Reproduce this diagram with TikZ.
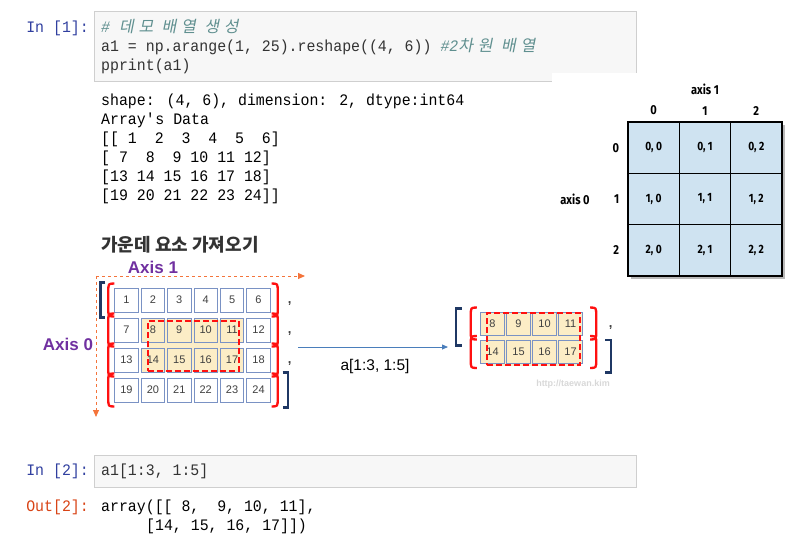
\documentclass[tikz,border=0pt]{standalone}
\usepackage{fontspec}
\setmainfont{Liberation Sans}
\newfontfamily\codefont[FakeStretch=0.93]{Liberation Mono}
\newfontfamily\krfont{Noto Sans CJK KR}
\newfontfamily\krcomment[FakeSlant=0.2,LetterSpace=30]{Noto Sans CJK KR}
\newfontfamily\figfont[FakeStretch=0.85]{Fira Sans}
\usetikzlibrary{positioning, fit, calc, arrows.meta, backgrounds}

\definecolor{promptblue}{HTML}{303F9F}
\definecolor{promptred}{HTML}{D84315}
\definecolor{codegray}{HTML}{333333}
\definecolor{commentc}{HTML}{5F8F8F}
\definecolor{boxfill}{HTML}{F7F7F7}
\definecolor{boxline}{HTML}{CFCFCF}
\definecolor{cellblue}{HTML}{7A92C4}
\definecolor{numgray}{HTML}{404040}
\definecolor{selyellow}{HTML}{FCEDC6}
\definecolor{parred}{HTML}{FF1010}
\definecolor{navyline}{HTML}{1F3864}
\definecolor{axorange}{HTML}{F4743B}
\definecolor{axpurple}{HTML}{7030A0}
\definecolor{sliceblue}{HTML}{4A7EBB}
\definecolor{gridblue}{HTML}{CFE3F1}
\definecolor{titlegray}{HTML}{333333}
\definecolor{wmgray}{HTML}{D8D8D8}

\tikzset{
  codebox/.style={
    rectangle, draw=boxline, fill=boxfill, line width=0.8pt, inner sep=0pt, anchor=north west
  },
  codeline/.style={
    font=\codefont\fontsize{16}{19}\selectfont, text=codegray, inner sep=0pt, anchor=base west
  },
  prompt/.style={
    font=\codefont\fontsize{16}{19}\selectfont, inner sep=0pt, anchor=base east
  },
  cell/.style={
    rectangle, draw=cellblue, line width=0.9pt, fill=white, minimum width=23.5pt,
    minimum height=24pt, inner sep=0pt, font=\fontsize{11}{11}\selectfont, text=numgray
  },
  selbox/.style={
    rectangle, draw=parred, line width=2.2pt, dash pattern=on 6pt off 3pt, inner sep=0pt
  },
  paren/.style={draw=parred, line width=2.3pt},
  brack/.style={draw=navyline, line width=2.4pt},
  axisarrow/.style={
    draw=axorange, line width=1pt, dashed, -{Triangle[length=7pt, width=6pt]}
  },
  axislabel/.style={font=\bfseries\fontsize{17}{17}\selectfont, text=axpurple},
  slicearrow/.style={draw=sliceblue, line width=0.8pt, -{Triangle[length=6pt, width=5pt]}},
  gridcell/.style={
    rectangle, draw=black, line width=1.3pt, fill=gridblue, minimum size=51.3pt,
    inner sep=0pt, font=\figfont\bfseries\fontsize{12}{12}\selectfont
  },
  gridlabel/.style={font=\figfont\bfseries\fontsize{13}{13}\selectfont, inner sep=1pt},
  commamark/.style={font=\bfseries\fontsize{13}{13}\selectfont, text=numgray, anchor=base}
}

\newcommand{\rowopen}[3]{%
  \draw[paren] ($(#1.north west)+(6pt-#2,#3)$) .. controls ($(#1.north west)+(-#2,#3)$)
    .. ($(#1.north west)+(-#2,#3-8pt)$) -- ($(#1.south west)+(-#2,8pt-#3)$)
    .. controls ($(#1.south west)+(-#2,-#3)$) .. ($(#1.south west)+(6pt-#2,-#3)$);}
\newcommand{\rowclose}[3]{%
  \draw[paren] ($(#1.north east)+(#2-6pt,#3)$) .. controls ($(#1.north east)+(#2,#3)$)
    .. ($(#1.north east)+(#2,#3-8pt)$) -- ($(#1.south east)+(#2,8pt-#3)$)
    .. controls ($(#1.south east)+(#2,-#3)$) .. ($(#1.south east)+(#2-6pt,-#3)$);}

\begin{document}
\begin{tikzpicture}[x=1pt, y=-1pt]
    \useasboundingbox (0,0) rectangle (812,539);

    % In [1]
    \node[codebox, minimum width=542pt, minimum height=70pt] (cell1) at (94,11) {};
    \node[prompt, text=promptblue] (in1) at (89,32) {In [1]:};
    \node[codeline] (c1l1) at (101,32) {{\color{commentc}\itshape\# \krcomment 데모 배열 생성}};
    \node[codeline] (c1l2) at (101,51) {a1 = np.arange(1, 25).reshape((4, 6)) {\color{commentc}\itshape\#2\krcomment 차원 배열}};
    \node[codeline] (c1l3) at (101,70) {pprint(a1)};
    \fill[white] (552,73) rectangle (640,84);

    % Sortie
    \foreach \txt [count=\i from 0] in {{shape: (4, 6), dimension: 2, dtype:int64}, {Array\textquotesingle s Data},
        {[[~1~~2~~3~~4~~5~~6]}, {[~7~~8~~9~10~11~12]}, {[13~14~15~16~17~18]}, {[19~20~21~22~23~24]]}}
        \node[codeline, text=black] (out\i) at (101,105+19*\i) {\txt};

    % Titre
    \node[font=\krfont\bfseries\fontsize{18}{18}\selectfont, text=titlegray] (title) at (180,245) {가운데 요소 가져오기};

    % Tableau 4x6
    \foreach \r in {1,...,4}
        \foreach \c in {1,...,6}{
            \pgfmathtruncatemacro\n{(\r-1)*6+\c}
            \node[cell] (a\r\c) at ({126.5+26.4*(\c-1)},{300+30*(\r-1)}) {\n};
        }
    \foreach \r in {2,3}
        \foreach \c in {2,...,5}
            \node[cell, fill=selyellow] at (a\r\c) {\pgfmathtruncatemacro\n{(\r-1)*6+\c}\n};
    \node[selbox, minimum width=91pt, minimum height=50pt] (sela) at (193.5,346) {};
    \begin{scope}[on background layer]
        \fill[selyellow] (sela.north west) rectangle (sela.south east);
    \end{scope}
    \foreach \r in {1,...,4}{
        \rowopen{a\r1}{6pt}{4pt}
        \rowclose{a\r6}{7pt}{4pt}
    }
    \draw[brack] ($(a11.north west)+(-9pt,5pt)$) -- ++(-5pt,0pt) |- ($(a11.south west)+(-9pt,-5pt)$);
    \draw[brack] ($(a46.north east)+(12pt,5pt)$) -- ++(5pt,0pt) |- ($(a46.south east)+(12pt,-5pt)$);
    \foreach \r in {1,2,3}
        \node[commamark] (comma\r) at ($(a\r6.east)+(19pt,-3pt)$) {,};

    % Axes
    \coordinate (axorigin) at (96,276);
    \coordinate (ax1end) at (305,276);
    \coordinate (ax0end) at (96,417);
    \draw[axisarrow] (axorigin) -- (ax1end);
    \draw[axisarrow] (axorigin) -- (ax0end);
    \node[axislabel] (axis1) at (153,267) {Axis 1};
    \node[axislabel] (axis0) at (68,344) {Axis 0};

    % Slicing
    \coordinate (slicefrom) at (298,347);
    \coordinate (sliceto) at (448,347);
    \draw[slicearrow] (slicefrom) -- (sliceto);
    \node[font=\fontsize{15.5}{15.5}\selectfont] (slicelabel) at (375,366) {a[1:3, 1:5]};

    % Resultat 2x4
    \foreach \r in {1,2}
        \foreach \c in {1,...,4}{
            \pgfmathtruncatemacro\n{6*\r+\c+1}
            \node[cell, fill=selyellow, minimum height=23pt] (b\r\c) at ({492.5+26*(\c-1)},{323.5+28.5*(\r-1)}) {\n};
        }
    \node[selbox, minimum width=93pt, minimum height=52pt] (selb) at (533.5,339) {};
    \begin{scope}[on background layer]
        \fill[selyellow] (selb.north west) rectangle (selb.south east);
    \end{scope}
    \foreach \r in {1,2}{
        \rowopen{b\r1}{9.5pt}{4pt}
        \rowclose{b\r4}{13.5pt}{4pt}
    }
    \draw[brack] ($(b11.north west)+(-18.5pt,3pt)$) -- ++(-6pt,0pt) |- ($(b11.south west)+(-18.5pt,-10pt)$);
    \draw[brack] ($(b24.north east)+(22.5pt,0pt)$) -- ++(6pt,0pt) |- ($(b24.south east)+(22.5pt,-8.5pt)$);
    \node[commamark] (commab) at ($(b14.east)+(28pt,-3.5pt)$) {,};
    \node[text=wmgray, font=\bfseries\fontsize{9}{9}\selectfont] (wm) at (573,384) {http://taewan.kim};

    % Tableau axis 0 / axis 1
    \fill[gray!55] (631,125) rectangle (785,279);
    \foreach \r in {0,1,2}
        \foreach \c in {0,1,2}
            \node[gridcell] (g\r\c) at ({653.7+51.3*\c},{147.7+51.3*\r}) {\r, \c};
    \foreach \c in {0,1,2}
        \node[gridlabel, above=5pt of g0\c] (gcol\c) {\c};
    \foreach \r in {0,1,2}
        \node[gridlabel, left=7pt of g\r0] (grow\r) {\r};
    \node[gridlabel, above=9pt of gcol1] (gaxis1) {axis 1};
    \node[gridlabel, left=22pt of grow1] (gaxis0) {axis 0};

    % In [2]
    \node[codebox, minimum width=542pt, minimum height=32pt] (cell2) at (94,455) {};
    \node[prompt, text=promptblue] (in2) at (89,475) {In [2]:};
    \node[codeline] (c2l1) at (101,475) {a1[1:3, 1:5]};
    \node[prompt, text=promptred] (out2) at (89,511) {Out[2]:};
    \node[codeline, text=black] (o2l1) at (101,511) {array([[~8,~~9,~10,~11],};
    \node[codeline, text=black] (o2l2) at (146,530) {[14,~15,~16,~17]])};

\end{tikzpicture}
\end{document}
